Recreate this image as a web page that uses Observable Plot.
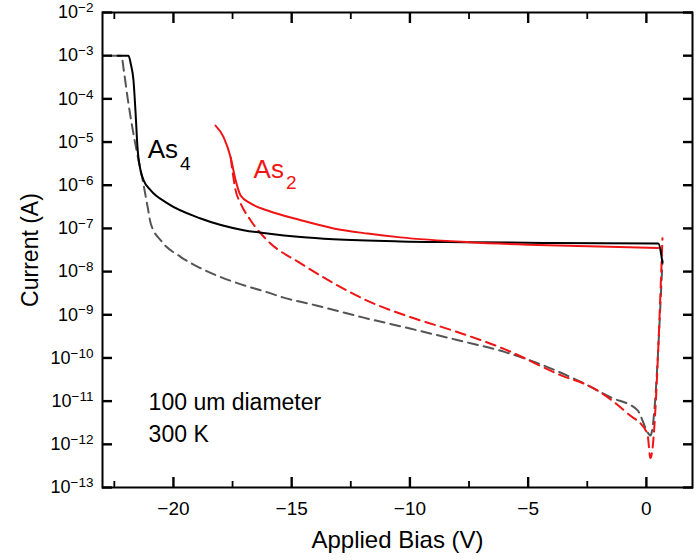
<!DOCTYPE html>
<html><head><meta charset="utf-8">
<script src="https://cdn.jsdelivr.net/npm/d3@7"></script>
<script src="https://cdn.jsdelivr.net/npm/@observablehq/plot@0.6"></script>
<style>
body{margin:0;background:#fff;font-family:"Liberation Sans",Arial,sans-serif}
</style>
</head><body><div id="chart"></div>
<script>
// ---- data (bias in V, current in A) ----
const as4SolidV = [-22.36,-21.9,-21.8,-21.69,-21.6,-21.52,-21.39,-21.26,-20.96,-20.25,-18.85,-17.03,-16.02,-14.62,-13.23,-10.4,-7.5,-4,0.5,0.68];
const as4SolidI = [1e-3,1e-3,6.3e-4,2.7e-4,4.6e-5,7.4e-6,2.2e-6,1.3e-6,7.6e-7,3.8e-7,1.7e-7,9.1e-8,7.6e-8,6.3e-8,5.6e-8,5.0e-8,4.8e-8,4.6e-8,4.5e-8,1.6e-8];

const as4DashV = [-22.65,-22.2,-22.1,-21.94,-21.72,-21.5,-21.3,-21.09,-20.96,-20.5,-19.7,-18.85,-17.46,-16.02,-15.34,-14,-12,-10,-8,-6,-4,-2.66,-1.52,-0.38,0.08,0.17,0.68];
const as4DashI = [1e-3,1e-3,4.6e-4,1.07e-4,1.9e-5,4.4e-6,1.3e-6,3.1e-7,1.3e-7,5e-8,2.2e-8,1.2e-8,5.8e-9,3.3e-9,2.5e-9,1.66e-9,8.7e-10,4.8e-10,2.6e-10,1.38e-10,5.6e-11,2.6e-11,1.23e-11,6.2e-12,1.8e-12,1.6e-12,1.8e-8];

const as2SolidV = [-18.22,-17.88,-17.58,-17.37,-17.16,-16.74,-16.02,-14.62,-13.23,-11.79,-10.4,-7.5,-5,-2,0.5];
const as2SolidI = [2.4e-5,1.3e-5,4.4e-6,1.3e-6,5.8e-7,3.8e-7,2.6e-7,1.55e-7,1e-7,7.6e-8,6.2e-8,4.8e-8,4.2e-8,3.8e-8,3.5e-8];

const as2DashV = [-17.58,-17.37,-17.16,-16.74,-16.02,-14.62,-13.23,-11.79,-10,-8,-6,-3.63,-2.24,-0.8,0.04,0.17,0.68];
const as2DashI = [4.4e-6,7.6e-7,3.8e-7,1.55e-7,5.2e-8,1.55e-8,5.4e-9,2.1e-9,8.9e-10,4e-10,1.6e-10,4e-11,2e-11,5.2e-12,1.8e-12,4.8e-13,5.9e-8];

const xDomain = [-23, 1.95];
const yDomain = [1e-13, 1e-2];
const xMajorTicks = [-20,-15,-10,-5,0];
const xMinorTicks = [-22.5,-17.5,-12.5,-7.5,-2.5];
const yMajorTicks = [1e-13,1e-12,1e-11,1e-10,1e-9,1e-8,1e-7,1e-6,1e-5,1e-4,1e-3,1e-2];

const speciesBase = ["As","As"];
const speciesSub = ["4","2"];
const speciesColor = ["#000000","#f01414"];
const speciesV = [-21.09,-16.61];
const speciesI = [4.2e-6,1.5e-6];

const noteText = ["100 um diameter","300 K"];
const noteV = [-21.05,-21.05];
const noteI = [6.2e-12,1.12e-12];

const xLabel = "Applied Bias (V)";
const yLabel = "Current (A)";

// ---- build ----
const series = (V, I) => V.map((v, i) => ({v, c: I[i]}));
const as4Solid = series(as4SolidV, as4SolidI);
const as4Dash = series(as4DashV, as4DashI);
const as2Solid = series(as2SolidV, as2SolidI);
const as2Dash = series(as2DashV, as2DashI);
const species = speciesBase.map((b, i) => ({t: b + "_" + speciesSub[i], color: speciesColor[i], v: speciesV[i], c: speciesI[i]}));
const notes = noteText.map((t, i) => ({t, v: noteV[i], c: noteI[i]}));

const yMinorTicks = d3.scaleLog().domain(yDomain).ticks().filter(d => !yMajorTicks.some(m => Math.abs(m - d) / m < 1e-6));

const W = 700, H = 560, mL = 102, mR = 8, mT = 12, mB = 73;
const RED = "#f01414", GRAY = "#555555";
const MAJ = 10, MIN = 6;

// inward tick marks on all four sides: axis marks with negative tickSize, no labels
const inward = (axis, anchors, ticks, size, sw) => anchors.map(anchor =>
  axis({anchor, ticks, tickSize: -size, stroke: "black", strokeWidth: sw, fill: "none", tickFormat: () => "", label: null}));

const chart = Plot.plot({
  width: W, height: H,
  marginLeft: mL, marginRight: mR, marginTop: mT, marginBottom: mB,
  x: {domain: xDomain},
  y: {type: "log", domain: yDomain},
  style: {fontFamily: "'Liberation Sans', Arial, sans-serif"},
  marks: [
    Plot.axisX({ticks: xMajorTicks, tickSize: 0, tickPadding: 14, fontSize: 19, label: null}),
    Plot.axisY({ticks: yMajorTicks, tickSize: 0, tickPadding: 9, fontSize: 18, label: null,
      tickFormat: d => "10^" + Math.round(Math.log10(d))}),
    // curves
    Plot.line(as4Dash, {x: "v", y: "c", stroke: GRAY, strokeWidth: 2, strokeDasharray: "10,6", curve: "monotone-x"}),
    Plot.line(as2Dash, {x: "v", y: "c", stroke: RED, strokeWidth: 2, strokeDasharray: "10,6", curve: "monotone-x"}),
    Plot.line(as4Solid, {x: "v", y: "c", stroke: "#000", strokeWidth: 2, curve: "monotone-x"}),
    Plot.line(as2Solid, {x: "v", y: "c", stroke: RED, strokeWidth: 2, curve: "monotone-x"}),
    // annotations
    Plot.text(species, {x: "v", y: "c", text: "t", fill: "color", fontSize: 26, textAnchor: "start", lineAnchor: "bottom"}),
    Plot.text(notes, {x: "v", y: "c", text: "t", fill: "#000", fontSize: 23, textAnchor: "start", lineAnchor: "bottom"}),
    // axis titles
    Plot.text([xLabel], {frameAnchor: "bottom", textAnchor: "middle", lineAnchor: "bottom", dy: 60, fontSize: 24, fill: "#000"}),
    Plot.text([yLabel], {frameAnchor: "left", textAnchor: "middle", lineAnchor: "middle", rotate: -90, dx: -72, fontSize: 23, fill: "#000"}),
    Plot.frame({stroke: "#000", strokeWidth: 2}),
    // ticks drawn last, on top of everything
    ...inward(Plot.axisY, ["left", "right"], yMajorTicks, MAJ, 2.4),
    ...inward(Plot.axisY, ["left", "right"], yMinorTicks, MIN, 1.8),
    ...inward(Plot.axisX, ["bottom", "top"], xMajorTicks, MAJ, 2.4),
    ...inward(Plot.axisX, ["bottom", "top"], xMinorTicks, MIN, 1.8)
  ]
});

// superscripts / subscripts as real text
d3.select(chart).selectAll("text").each(function () {
  const t = this.textContent;
  let m = t.match(/^10\^(-?\d+)$/);
  if (m) {
    this.textContent = "10";
    d3.select(this).append("tspan").attr("dy", "-0.45em").attr("font-size", "13.5px").text(m[1].replace("-", "\u2212"));
    return;
  }
  m = t.match(/^(\w+)_(\w+)$/);
  if (m) {
    this.textContent = m[1];
    d3.select(this).append("tspan").attr("dx", "2").attr("dy", "0.6em").attr("font-size", "19px").text(m[2]);
  }
});

document.getElementById("chart").append(chart);
</script>
</body></html>
